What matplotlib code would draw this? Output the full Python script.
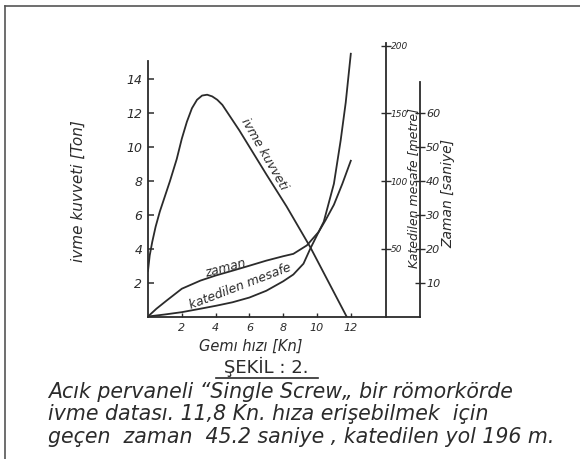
import matplotlib
matplotlib.use("Agg")
import matplotlib.pyplot as plt
from matplotlib.lines import Line2D

ink = '#2b2b2b'

# ivme kuvveti [Ton] vs gemi hizi [Kn]
speed_force = [0, 0.1, 0.25, 0.45, 0.7, 1.0, 1.3, 1.7, 2.0, 2.3, 2.6, 2.9, 3.2, 3.5, 3.8, 4.1, 4.4, 5.4, 7.0, 8.2, 9.6, 11.75]
force = [2.7, 3.6, 4.4, 5.3, 6.2, 7.1, 8.0, 9.3, 10.5, 11.5, 12.3, 12.8, 13.05, 13.1, 13.0, 12.8, 12.5, 11.0, 8.4, 6.5, 4.1, 0]

# zaman [saniye]
speed_time = [0, 0.5, 1.1, 2.0, 3.1, 4.0, 5.05, 6.0, 7.0, 8.0, 8.6, 9.4, 10.1, 10.5, 11.0, 11.5, 12.0]
time_s = [0, 2.3, 4.7, 8.2, 10.6, 12.1, 13.6, 15.0, 16.5, 17.8, 18.5, 21.0, 25.0, 28.4, 33.0, 39.2, 46.0]

# katedilen mesafe [metre]
speed_dist = [0, 1.0, 2.0, 3.0, 4.05, 5.0, 6.0, 7.0, 8.0, 8.6, 9.2, 9.6, 10.0, 10.4, 11.0, 11.4, 11.7, 12.0]
dist_m = [0, 1.5, 3.2, 5.5, 8, 10.5, 14, 19, 26, 31, 39, 50, 60, 70, 98, 130, 158, 194]

force_ticks = [2, 4, 6, 8, 10, 12, 14]
speed_ticks = [2, 4, 6, 8, 10, 12]
dist_ticks = [50, 100, 150, 200]
time_ticks = [10, 20, 30, 40, 50, 60]

caption = ['Acık pervaneli “Single Screw„ bir römorkörde',
           'ivme datası. 11,8 Kn. hıza erişebilmek  için',
           'geçen  zaman  45.2 saniye , katedilen yol 196 m.']

fig = plt.figure(figsize=(5.8, 4.59), dpi=100)
ymax = 16.2
ax = fig.add_axes([148 / 580, 1 - 316.5 / 459, 272 / 580, ymax * 16.93 / 459])
ax.set_xlim(0, 272 / 16.9)
ax.set_ylim(0, ymax)

ax2 = ax.twinx()
ax2.set_ylim(0, ymax * 12.5)
ax3 = ax.twinx()
ax3.set_ylim(0, ymax * 5)

for a in (ax, ax2, ax3):
    a.patch.set_visible(False)
    for s in a.spines.values():
        s.set_visible(False)

ax.spines['left'].set_visible(True)
ax.spines['left'].set_bounds(0, 15.1)
ax.spines['bottom'].set_visible(True)
ax2.spines['right'].set_visible(True)
ax2.spines['right'].set_position(('data', 14.06))
ax2.spines['right'].set_bounds(0, 202)
ax3.spines['right'].set_visible(True)
ax3.spines['right'].set_bounds(0, 69.4)
for a, side in ((ax, 'left'), (ax, 'bottom'), (ax2, 'right'), (ax3, 'right')):
    a.spines[side].set_color(ink)
    a.spines[side].set_linewidth(1.3)

tfont = dict(style='italic', color=ink)
ax.set_yticks(force_ticks)
ax.set_yticklabels([str(t) for t in force_ticks], fontsize=9, **tfont)
ax.set_xticks(speed_ticks)
ax.set_xticklabels([str(t) for t in speed_ticks], fontsize=8, **tfont)
ax.tick_params(axis='y', direction='in', length=4, width=1.1, color=ink, pad=4)
ax.tick_params(axis='x', direction='in', length=3, width=1.0, color=ink, pad=5)

ax2.set_yticks(dist_ticks)
ax2.set_yticklabels([str(t) for t in dist_ticks], fontsize=6.5, **tfont)
ax2.tick_params(axis='y', direction='inout', length=7, width=1.0, color=ink, pad=0)
ax3.set_yticks(time_ticks)
ax3.set_yticklabels([str(t) for t in time_ticks], fontsize=8, **tfont)
ax3.tick_params(axis='y', direction='inout', length=7, width=1.0, color=ink, pad=1)

ax.plot(speed_force, force, color=ink, lw=1.3, solid_joinstyle='round')
ax3.plot(speed_time, time_s, color=ink, lw=1.3, solid_joinstyle='round')
ax2.plot(speed_dist, dist_m, color=ink, lw=1.3, solid_joinstyle='round')

# curve labels
fig.text(264 / 580, 1 - 154 / 459, 'ivme kuvveti', rotation=-60, ha='center', va='center',
         fontsize=9, **tfont)
fig.text(225 / 580, 1 - 268 / 459, 'zaman', rotation=15, ha='center', va='center',
         fontsize=9, **tfont)
fig.text(240 / 580, 1 - 286 / 459, 'katedilen mesafe', rotation=21, ha='center', va='center',
         fontsize=9, **tfont)

# axis labels
fig.text(78 / 580, 1 - 191 / 459, 'ivme kuvveti [Ton]', rotation=90, ha='center', va='center',
         fontsize=11, **tfont)
fig.text(251 / 580, 1 - 346 / 459, 'Gemı hızı [Kn]', ha='center', va='center',
         fontsize=10.5, **tfont)
fig.text(413.5 / 580, 1 - 188 / 459, 'Katedilen mesafe [metre]', rotation=90, ha='center',
         va='center', fontsize=9, **tfont)
fig.text(448 / 580, 1 - 194 / 459, 'Zaman [saniye]', rotation=90, ha='center', va='center',
         fontsize=10, **tfont)

fig.text(266 / 580, 1 - 367 / 459, 'ŞEKİL : 2.', ha='center', va='center', fontsize=13,
         color=ink)
fig.add_artist(Line2D([216 / 580, 318 / 580], [1 - 378 / 459, 1 - 378 / 459],
                      color=ink, lw=1.2))

for i, line in enumerate(caption):
    fig.text(48 / 580, 1 - (392 + i * 22.5) / 459, line, ha='left', va='center',
             fontsize=14.8, **tfont)

# scan frame
fig.add_artist(Line2D([5 / 580, 1], [1 - 6 / 459, 1 - 6 / 459], color='#555555', lw=1.2))
fig.add_artist(Line2D([5 / 580, 5 / 580], [1 - 6 / 459, 0], color='#555555', lw=1.2))

fig.savefig('out.png', dpi=100)
